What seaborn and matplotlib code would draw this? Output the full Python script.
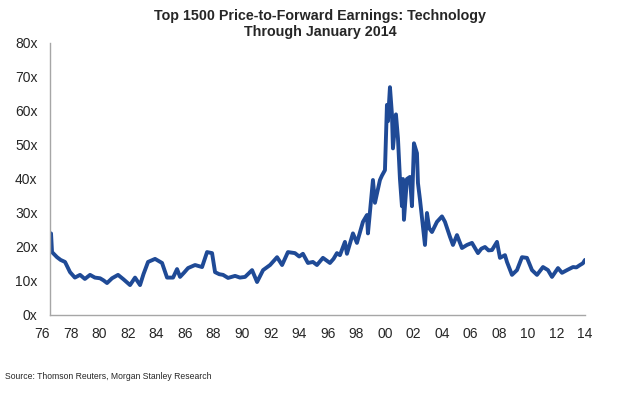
import pandas as pd
import matplotlib.pyplot as plt
import matplotlib.transforms as mtransforms
import seaborn as sns

# Data (decimal year, forward P/E multiple)
years = [1976.63, 1976.70, 1977.05, 1977.30, 1977.61, 1977.96, 1978.30, 1978.66, 1979.00,
         1979.36, 1979.70, 1980.06, 1980.30, 1980.55, 1980.90, 1981.32, 1981.70, 1982.16,
         1982.51, 1982.86, 1983.10, 1983.42, 1983.91, 1984.40, 1984.75, 1985.17, 1985.45,
         1985.66, 1985.95, 1986.22, 1986.71, 1987.20, 1987.55, 1987.90, 1988.11, 1988.40,
         1988.67, 1989.02, 1989.51, 1989.85, 1990.21, 1990.70, 1991.05, 1991.47, 1991.96,
         1992.45, 1992.80, 1993.21, 1993.70, 1994.00, 1994.26, 1994.61, 1994.96, 1995.24,
         1995.66, 1996.15, 1996.40, 1996.64, 1996.85, 1997.20, 1997.34, 1997.76, 1998.04,
         1998.46, 1998.74, 1998.81, 1999.16, 1999.30, 1999.65, 1999.79, 2000.00, 2000.14,
         2000.21, 2000.35, 2000.49, 2000.56, 2000.77, 2000.91, 2001.05, 2001.19, 2001.26,
         2001.33, 2001.54, 2001.75, 2001.89, 2002.03, 2002.10, 2002.24, 2002.31, 2002.45,
         2002.66, 2002.80, 2002.94, 2003.10, 2003.29, 2003.64, 2003.99, 2004.20, 2004.55,
         2004.76, 2005.04, 2005.39, 2005.74, 2006.09, 2006.51, 2006.75, 2007.00, 2007.25,
         2007.49, 2007.84, 2008.05, 2008.40, 2008.54, 2008.89, 2009.24, 2009.59, 2009.94,
         2010.29, 2010.64, 2011.06, 2011.41, 2011.69, 2012.11, 2012.39, 2012.74, 2013.16,
         2013.40, 2013.65, 2013.85, 2014.00]
pe_ratio = [24.0, 18.5, 17.0, 16.2, 15.6, 12.6, 11.0, 11.8, 10.6,
            11.8, 11.0, 10.8, 10.2, 9.4, 10.8, 11.8, 10.5, 8.8,
            11.0, 8.8, 12.0, 15.6, 16.5, 15.3, 11.0, 11.0, 13.5,
            11.2, 12.5, 13.8, 14.7, 14.1, 18.5, 18.2, 12.6, 12.0,
            11.8, 10.9, 11.5, 11.0, 11.2, 13.2, 9.7, 13.2, 14.7,
            17.0, 14.7, 18.5, 18.2, 17.2, 18.0, 15.3, 15.6, 14.7,
            16.8, 15.3, 16.5, 18.2, 17.6, 21.5, 18.0, 24.0, 21.2,
            27.4, 29.4, 24.0, 39.7, 33.0, 39.7, 41.0, 42.6, 61.8,
            57.0, 67.0, 59.0, 49.0, 59.0, 52.0, 40.0, 32.0, 40.0,
            28.0, 40.0, 40.6, 32.0, 50.5, 49.5, 47.6, 38.8, 34.0,
            26.0, 20.6, 30.0, 25.5, 24.4, 27.4, 29.0, 27.4, 23.0,
            20.6, 23.5, 19.7, 20.6, 21.2, 18.2, 19.5, 20.0, 19.0,
            19.1, 21.5, 16.8, 17.6, 15.6, 11.8, 13.2, 17.0, 16.8,
            13.2, 11.8, 14.1, 13.2, 11.2, 13.8, 12.4, 13.2, 14.1,
            14.0, 14.7, 15.2, 16.2]
year_ticks = list(range(1976, 2015, 2))
y_ticks = [0, 10, 20, 30, 40, 50, 60, 70, 80]

df = pd.DataFrame({'year': years, 'pe': pe_ratio})

sns.set_style('white')
plt.rcParams['font.family'] = ['Liberation Sans', 'DejaVu Sans']

fig = plt.figure(figsize=(6.34, 3.93), dpi=100)
ax = fig.add_axes([0.0789, 0.1985, 0.8438, 0.6921])

sns.lineplot(data=df, x='year', y='pe', ax=ax, color='#1F4A96', linewidth=2.8)

ax.set_xlim(1976.56, 2014.0)
ax.set_ylim(0, 80)
ax.set_yticks(y_ticks)
ax.set_yticklabels([f'{v}x' for v in y_ticks], fontsize=10)
ax.tick_params(axis='y', length=0, pad=9)
ax.set_xticks([])
ax.set_xlabel('')
ax.set_ylabel('')

# year labels (first one sits just left of the axis, like the original)
trans = mtransforms.blended_transform_factory(ax.transData, ax.transAxes)
for y in year_ticks:
    ax.text(y, -0.045, f'{y % 100:02d}', transform=trans, ha='center', va='top',
            fontsize=10, clip_on=False)

for side in ['top', 'right']:
    ax.spines[side].set_visible(False)
for side in ['left', 'bottom']:
    ax.spines[side].set_color('#A6A6A6')
    ax.spines[side].set_linewidth(1.0)

fig.text(0.505, 0.959, 'Top 1500 Price-to-Forward Earnings: Technology',
         ha='center', va='center', fontsize=10.3, fontweight='bold')
fig.text(0.505, 0.919, 'Through January 2014',
         ha='center', va='center', fontsize=10.3, fontweight='bold')
fig.text(0.008, 0.043, 'Source: Thomson Reuters, Morgan Stanley Research',
         ha='left', va='center', fontsize=6.2)

fig.savefig('out.png', dpi=100)
